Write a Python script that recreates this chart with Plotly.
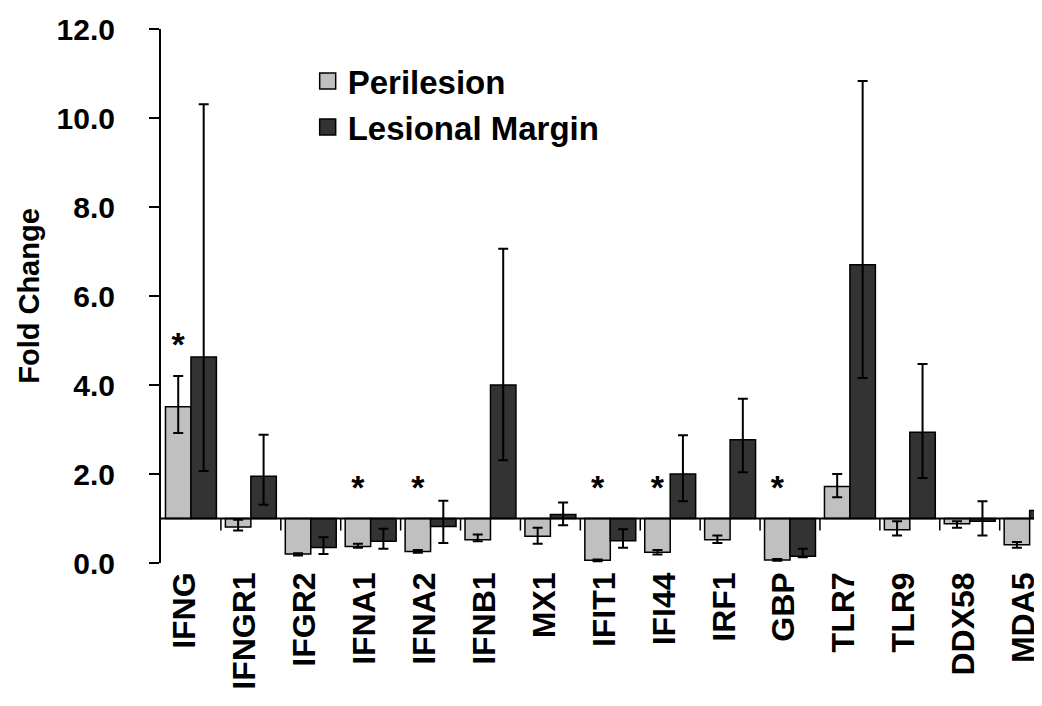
import numpy as np
import plotly.graph_objects as go

genes = ["IFNG", "IFNGR1", "IFGR2", "IFNA1", "IFNA2", "IFNB1", "MX1", "IFIT1",
         "IFI44", "IRF1", "GBP", "TLR7", "TLR9", "DDX58", "MDA5"]

peri = [3.51, 0.81, 0.20, 0.37, 0.26, 0.52, 0.60, 0.06, 0.24, 0.52, 0.07, 1.72, 0.75, 0.88, 0.41]
peri_up = [0.69, 0.16, 0.02, 0.06, 0.03, 0.12, 0.19, 0.02, 0.05, 0.10, 0.02, 0.28, 0.19, 0.06, 0.06]
peri_dn = [0.59, 0.08, 0.03, 0.03, 0.03, 0.03, 0.17, 0.02, 0.05, 0.07, 0.02, 0.24, 0.13, 0.09, 0.07]

lesion = [4.63, 1.95, 0.35, 0.49, 0.82, 4.00, 1.09, 0.50, 2.00, 2.77, 0.15, 6.70, 2.94, 0.94, 1.18]
lesion_up = [5.68, 0.93, 0.23, 0.28, 0.58, 3.06, 0.27, 0.26, 0.87, 0.92, 0.17, 4.13, 1.53, 0.45, 0.53]
lesion_dn = [2.56, 0.64, 0.15, 0.17, 0.37, 1.69, 0.24, 0.16, 0.61, 0.73, 0.02, 2.54, 1.03, 0.32, 0.39]

# significance marks (asterisk) over the Perilesion bar
sig_y = [4.85, None, None, 1.62, 1.62, None, None, 1.62, 1.62, None, 1.62, None, None, None, None]

baseline = 1.0
y_ticks = [0, 2, 4, 6, 8, 10, 12]

FONT = "Liberation Sans, Arial, sans-serif"
LIGHT = "#c0c0c0"
DARK = "#333333"

x = np.arange(len(genes))
bargap = 0.15
bw = (1 - bargap) / 2
label_shift = 0.1  # compensates the rotated-label drift so names sit under their groups

fig = go.Figure()
for name, vals, up, dn, col in [
    ("Perilesion", peri, peri_up, peri_dn, LIGHT),
    ("Lesional Margin", lesion, lesion_up, lesion_dn, DARK),
]:
    fig.add_trace(go.Bar(
        x=x, y=[v - baseline for v in vals], base=baseline, name=name,
        marker=dict(color=col, line=dict(color="black", width=1.5)),
        error_y=dict(type="data", symmetric=False, array=up, arrayminus=dn,
                     color="black", thickness=2, width=5),
        showlegend=False,
    ))
    fig.add_trace(go.Scatter(
        x=[None], y=[None], mode="markers", name=name,
        marker=dict(symbol="square", size=16, color=col,
                    line=dict(color="black", width=1.5)),
    ))

fig.add_trace(go.Scatter(
    x=x - bw / 2, y=sig_y, mode="text", text=["*" if s is not None else "" for s in sig_y],
    textfont=dict(family=FONT, size=34, color="black", weight="bold"),
    showlegend=False, hoverinfo="skip",
))

shapes = [dict(type="line", xref="x", yref="y", x0=-0.5, x1=len(genes) - 0.5,
               y0=baseline, y1=baseline, line=dict(color="black", width=2))]
for i in range(len(genes)):
    shapes.append(dict(type="line", xref="x", yref="y", x0=i + 0.5, x1=i + 0.5,
                       y0=baseline, y1=baseline - 0.27, line=dict(color="black", width=1.5)))

fig.update_layout(
    width=1042, height=706,
    margin=dict(l=153, r=0, t=21, b=151),
    paper_bgcolor="white", plot_bgcolor="white",
    barmode="group", bargap=bargap, bargroupgap=0,
    shapes=shapes,
    font=dict(family=FONT, color="black"),
    legend=dict(x=0.165, y=0.955, xanchor="left", yanchor="top",
                font=dict(family=FONT, size=33, weight="bold"),
                bgcolor="rgba(0,0,0,0)", traceorder="grouped", tracegroupgap=3),
    xaxis=dict(range=[-0.5, 14.34], tickmode="array", tickvals=x - label_shift, ticktext=genes,
               tickangle=-90, showline=False, showgrid=False, zeroline=False,
               ticks="", ticklabelstandoff=2, automargin=False,
               tickfont=dict(family=FONT, size=32, weight="bold")),
    yaxis=dict(range=[0, 12], tickvals=y_ticks, tickformat=".1f",
               showline=True, linecolor="black", linewidth=2,
               ticks="outside", ticklen=10, tickwidth=2, tickcolor="black",
               showgrid=False, zeroline=False, ticklabelstandoff=28, automargin=False,
               tickfont=dict(family=FONT, size=30, weight="bold"),
               title=dict(text="Fold Change", standoff=8,
                          font=dict(family=FONT, size=29, weight="bold"))),
)

fig.write_html("out.html")
